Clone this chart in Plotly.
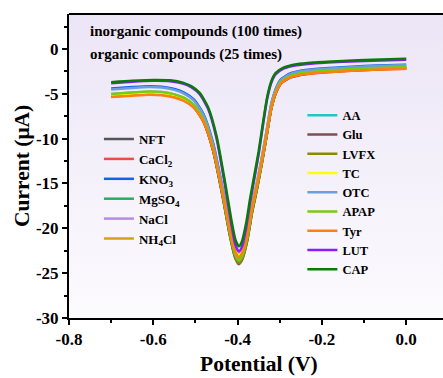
import plotly.graph_objects as go

# Potential grids (V)
X_NARROW = [-0.70, -0.65, -0.60, -0.56, -0.53, -0.51, -0.49, -0.47, -0.45, -0.43, -0.415, -0.405, -0.397,
            -0.39, -0.38, -0.37, -0.36, -0.35, -0.34, -0.33, -0.32, -0.31, -0.29, -0.26, -0.22, -0.15, -0.08, 0.00]
X_WIDE = [-0.70, -0.65, -0.61, -0.58, -0.55, -0.527, -0.504, -0.481, -0.458, -0.435, -0.418, -0.406, -0.397,
          -0.389, -0.377, -0.366, -0.354, -0.343, -0.331, -0.320, -0.308, -0.297, -0.274, -0.239, -0.193, -0.13, -0.07, 0.00]

# Currents (uA)
NFT = [-5.10, -4.94, -4.84, -4.89, -5.15, -5.56, -6.32, -7.96, -11.23, -16.44, -20.73, -23.08, -23.80,
       -23.28, -21.20, -18.19, -15.50, -12.80, -9.58, -6.57, -4.70, -3.77, -3.09, -2.73, -2.52, -2.34, -2.21, -2.11]
CACL2 = [-5.30, -5.15, -5.05, -5.10, -5.35, -5.75, -6.50, -8.10, -11.30, -16.40, -20.60, -22.90, -23.60,
         -23.09, -21.04, -18.07, -15.41, -12.75, -9.57, -6.60, -4.76, -3.84, -3.17, -2.81, -2.61, -2.43, -2.30, -2.20]
KNO3 = [-4.41, -4.25, -4.15, -4.20, -4.46, -4.86, -5.63, -7.25, -10.50, -15.68, -19.95, -22.29, -23.00,
        -22.49, -20.46, -17.51, -14.86, -12.22, -9.07, -6.12, -4.29, -3.37, -2.71, -2.35, -2.15, -1.98, -1.85, -1.75]
MGSO4 = [-5.11, -4.96, -4.86, -4.91, -5.16, -5.56, -6.31, -7.92, -11.14, -16.26, -20.48, -22.80, -23.50,
         -22.99, -20.93, -17.96, -15.29, -12.62, -9.44, -6.47, -4.62, -3.70, -3.03, -2.67, -2.47, -2.29, -2.16, -2.06]
NACL = [-5.01, -4.86, -4.76, -4.81, -5.06, -5.46, -6.21, -7.82, -11.04, -16.16, -20.38, -22.70, -23.40,
        -22.89, -20.84, -17.87, -15.21, -12.55, -9.37, -6.40, -4.56, -3.64, -2.97, -2.61, -2.41, -2.23, -2.10, -2.00]
NH4CL = [-5.20, -5.05, -4.95, -5.00, -5.25, -5.65, -6.41, -8.03, -11.26, -16.42, -20.67, -22.99, -23.70,
         -23.18, -21.12, -18.12, -15.44, -12.75, -9.55, -6.55, -4.69, -3.76, -3.09, -2.73, -2.52, -2.35, -2.21, -2.11]
AA = [-5.10, -4.95, -4.85, -4.90, -5.15, -5.55, -6.31, -7.93, -11.16, -16.32, -20.57, -22.89, -23.60,
      -23.09, -21.03, -18.04, -15.37, -12.69, -9.50, -6.52, -4.67, -3.74, -3.07, -2.71, -2.51, -2.33, -2.20, -2.09]
GLU = [-5.21, -5.05, -4.95, -5.00, -5.26, -5.67, -6.44, -8.08, -11.37, -16.61, -20.92, -23.28, -24.00,
       -23.48, -21.39, -18.36, -15.64, -12.92, -9.68, -6.65, -4.77, -3.83, -3.15, -2.79, -2.58, -2.40, -2.26, -2.16]
LVFX = [-5.20, -5.04, -4.94, -4.99, -5.25, -5.66, -6.42, -8.06, -11.33, -16.54, -20.83, -23.18, -23.90,
        -23.38, -21.29, -18.27, -15.56, -12.84, -9.61, -6.59, -4.71, -3.77, -3.09, -2.73, -2.52, -2.34, -2.21, -2.10]
TC = [-5.10, -4.96, -4.86, -4.91, -5.15, -5.54, -6.28, -7.84, -10.97, -15.96, -20.07, -22.32, -23.00,
      -22.50, -20.49, -17.59, -14.98, -12.38, -9.27, -6.37, -4.56, -3.66, -3.01, -2.66, -2.46, -2.29, -2.16, -2.06]
OTC = [-4.51, -4.35, -4.25, -4.30, -4.56, -4.97, -5.74, -7.38, -10.67, -15.91, -20.22, -22.58, -23.30,
       -22.79, -20.73, -17.74, -15.07, -12.39, -9.20, -6.22, -4.37, -3.44, -2.77, -2.41, -2.21, -2.03, -1.90, -1.79]
APAP = [-5.01, -4.85, -4.75, -4.80, -5.06, -5.46, -6.23, -7.85, -11.10, -16.28, -20.55, -22.89, -23.60,
        -23.08, -21.02, -18.02, -15.34, -12.65, -9.45, -6.45, -4.59, -3.66, -2.99, -2.63, -2.42, -2.25, -2.11, -2.01]
TYR = [-5.36, -5.21, -5.11, -5.16, -5.41, -5.80, -6.53, -8.09, -11.21, -16.18, -20.27, -22.52, -23.20,
       -22.70, -20.69, -17.77, -15.16, -12.55, -9.43, -6.52, -4.71, -3.80, -3.15, -2.80, -2.60, -2.43, -2.30, -2.20]
LUT = [-3.81, -3.65, -3.55, -3.60, -3.86, -4.27, -5.04, -6.68, -9.97, -15.21, -19.52, -21.88, -22.60,
       -22.09, -20.04, -17.07, -14.41, -11.75, -8.57, -5.60, -3.76, -2.84, -2.17, -1.81, -1.61, -1.43, -1.30, -1.20]
CAP = [-3.70, -3.55, -3.45, -3.50, -3.75, -4.15, -4.90, -6.50, -9.70, -14.80, -19.00, -21.30, -22.00,
       -21.50, -19.50, -16.60, -14.00, -11.40, -8.30, -5.40, -3.60, -2.70, -2.05, -1.70, -1.50, -1.33, -1.20, -1.10]

NAMES = ["NFT", "CaCl<sub>2</sub>", "KNO<sub>3</sub>", "MgSO<sub>4</sub>", "NaCl", "NH<sub>4</sub>Cl",
         "AA", "Glu", "LVFX", "TC", "OTC", "APAP", "Tyr", "LUT", "CAP"]
SERIES = [NFT, CACL2, KNO3, MGSO4, NACL, NH4CL, AA, GLU, LVFX, TC, OTC, APAP, TYR, LUT, CAP]
XGRID = [X_WIDE] * 13 + [X_NARROW, X_NARROW]
COLORS = ["#555555", "#f24848", "#1560e8", "#2aab5f", "#b58be6", "#d4a017",
          "#1ec8c8", "#7b4f4f", "#8a8a00", "#ffff00", "#6a9fdc", "#77cc11", "#ff8010", "#8a1cff", "#0a7a0a"]
LEGEND_OF = ["legend"] * 6 + ["legend2"] * 9

X_TICKS = [-0.8, -0.6, -0.4, -0.2, 0.0]
X_TICKTEXT = ["-0.8", "-0.6", "-0.4", "-0.2", "0.0"]
Y_TICKS = [-30, -25, -20, -15, -10, -5, 0]
Y_TICKTEXT = ["-30", "-25", "-20", "-15", "-10", "-5", "0"]

XR = [-0.8, 0.0873]
YR = [-30, 3.9]
SERIF = "Liberation Serif"

fig = go.Figure()

# plot-area background gradient
fig.add_trace(go.Scatter(
    x=[XR[0], XR[1], XR[1], XR[0], XR[0]], y=[YR[0], YR[0], YR[1], YR[1], YR[0]],
    mode="lines", line=dict(width=0), fill="toself",
    fillgradient=dict(type="vertical", colorscale=[[0, "#fcfbfe"], [1, "#ece5f6"]]),
    showlegend=False, hoverinfo="skip"))

for name, xs, ys, col, lg in zip(NAMES, XGRID, SERIES, COLORS, LEGEND_OF):
    fig.add_trace(go.Scatter(x=xs, y=ys, mode="lines", name=name, legend=lg,
                             line=dict(color=col, width=2.5, shape="spline", smoothing=0.6)))

axis_font = dict(family=SERIF, size=17, color="black", weight="bold")
fig.update_layout(
    width=443, height=378,
    margin=dict(l=69, r=0, t=14, b=60),
    paper_bgcolor="white", plot_bgcolor="white",
    xaxis=dict(range=XR, tickvals=X_TICKS, ticktext=X_TICKTEXT, ticks="outside", ticklen=5, tickwidth=2,
               tickcolor="black", showline=True, linewidth=2, linecolor="black", showgrid=False,
               zeroline=False, tickfont=axis_font,
               minor=dict(ticks="outside", dtick=0.1, tick0=-0.8, ticklen=3, tickwidth=2, tickcolor="black")),
    yaxis=dict(range=YR, tickvals=Y_TICKS, ticktext=Y_TICKTEXT, ticks="outside", ticklen=5, tickwidth=2,
               tickcolor="black", showline=True, linewidth=2, linecolor="black", showgrid=False,
               zeroline=False, tickfont=axis_font,
               minor=dict(ticks="outside", dtick=2.5, tick0=0, ticklen=3, tickwidth=2, tickcolor="black")),
    legend=dict(x=0.08, y=0.638, xanchor="left", yanchor="top", bgcolor="rgba(0,0,0,0)",
                font=dict(family=SERIF, size=13, color="black", weight="bold"), traceorder="normal"),
    legend2=dict(x=0.624, y=0.715, xanchor="left", yanchor="top", bgcolor="rgba(0,0,0,0)",
                 font=dict(family=SERIF, size=12.5, color="black", weight="bold"), traceorder="normal"),
    shapes=[dict(type="line", xref="paper", yref="paper", x0=0, x1=1, y0=1, y1=1,
                 line=dict(color="black", width=2))],
    annotations=[
        dict(text="inorganic compounds (100 times)", xref="paper", yref="paper", x=0.0508, y=0.944,
             xanchor="left", yanchor="middle", showarrow=False,
             font=dict(family=SERIF, size=15, color="black", weight="bold")),
        dict(text="organic compounds (25 times)", xref="paper", yref="paper", x=0.0508, y=0.868,
             xanchor="left", yanchor="middle", showarrow=False,
             font=dict(family=SERIF, size=15, color="black", weight="bold")),
        dict(text="Potential (V)", xref="paper", yref="paper", x=0.508, y=-0.152,
             xanchor="center", yanchor="middle", showarrow=False,
             font=dict(family=SERIF, size=21.5, color="black", weight="bold")),
        dict(text="Current (μA)", xref="paper", yref="paper", x=-0.1257, y=0.5, textangle=-90,
             xanchor="center", yanchor="middle", showarrow=False,
             font=dict(family=SERIF, size=21.5, color="black", weight="bold")),
    ],
)

fig.write_html("out.html")
